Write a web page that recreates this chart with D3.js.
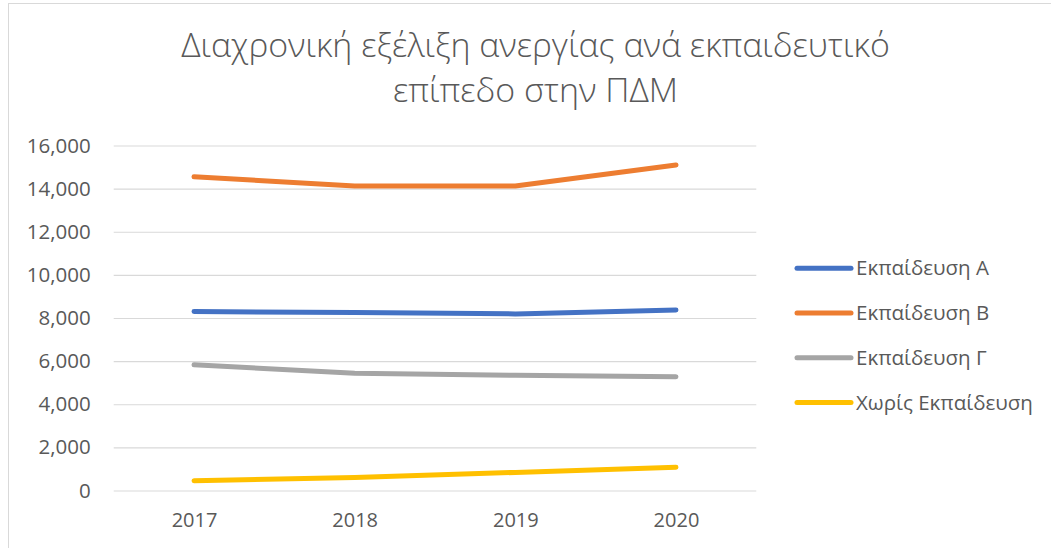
<!DOCTYPE html>
<html>
<head>
<meta charset="utf-8">
<script src="https://cdn.jsdelivr.net/npm/d3@7"></script>
<style>
  html, body { margin: 0; padding: 0; background: #fff; }
  svg { display: block; font-family: "Open Sans", "Noto Sans", sans-serif; }
  .tick text { fill: #595959; }
</style>
</head>
<body>
<div id="chart"></div>
<script>
// Data
var years = ['2017', '2018', '2019', '2020'];
var seriesNames = ['Εκπαίδευση Α', 'Εκπαίδευση Β', 'Εκπαίδευση Γ', 'Χωρίς Εκπαίδευση'];
var eduA = [8300, 8250, 8190, 8370];
var eduB = [14550, 14120, 14120, 15100];
var eduC = [5830, 5440, 5340, 5280];
var noEdu = [450, 600, 840, 1080];
var yTicks = [0, 2000, 4000, 6000, 8000, 10000, 12000, 14000, 16000];
var titleLines = ['Διαχρονική εξέλιξη ανεργίας ανά εκπαιδευτικό', 'επίπεδο στην ΠΔΜ'];

var colors = ['#4472C4', '#ED7D31', '#A5A5A5', '#FFC000'];
var seriesValues = [eduA, eduB, eduC, noEdu];

// Size
var svgWidth = 1051;
var svgHeight = 548;

var plot = { left: 113.7, right: 756.3, top: 145.5, bottom: 490.5 };

var svg = d3.select('#chart')
  .append('svg')
  .attr('width', svgWidth)
  .attr('height', svgHeight);

// chart border
svg.append('rect')
  .attr('x', 8.5)
  .attr('y', 3.5)
  .attr('width', svgWidth + 10)
  .attr('height', svgHeight + 10)
  .attr('fill', 'none')
  .attr('stroke', '#d9d9d9')
  .attr('stroke-width', 1);

// scales
var xScale = d3.scalePoint()
  .domain(years)
  .range([plot.left, plot.right])
  .padding(0.5);

var yScale = d3.scaleLinear()
  .domain([0, 16000])
  .range([plot.bottom, plot.top]);

// y axis with gridlines
var yAxis = svg.append('g')
  .attr('transform', `translate(${plot.left}, 0)`)
  .call(d3.axisLeft(yScale)
    .tickValues(yTicks)
    .tickFormat(d3.format(','))
    .tickSize(-(plot.right - plot.left))
    .tickPadding(23));

yAxis.attr('font-family', '"Open Sans", sans-serif');
yAxis.select('.domain').remove();
yAxis.selectAll('.tick line')
  .attr('stroke', '#d9d9d9')
  .attr('stroke-width', 1.2);
yAxis.selectAll('.tick text')
  .attr('font-size', '20.5px');

// x axis
var xAxis = svg.append('g')
  .attr('transform', `translate(0, ${plot.bottom})`)
  .call(d3.axisBottom(xScale).tickSize(0).tickPadding(22));

xAxis.attr('font-family', '"Open Sans", sans-serif');
xAxis.select('.domain').remove();
xAxis.selectAll('.tick text')
  .attr('font-size', '20px')
  .attr('dy', '0.71em');

// lines
var line = d3.line()
  .x((d, i) => xScale(years[i]))
  .y(d => yScale(d));

seriesValues.forEach(function (vals, i) {
  svg.append('path')
    .datum(vals)
    .attr('fill', 'none')
    .attr('stroke', colors[i])
    .attr('stroke-width', 5)
    .attr('stroke-linecap', 'round')
    .attr('stroke-linejoin', 'round')
    .attr('d', line);
});

// legend
var legend = svg.append('g')
  .attr('transform', 'translate(797, 268.3)');

seriesNames.forEach(function (name, i) {
  var row = legend.append('g')
    .attr('transform', `translate(0, ${i * 44.7})`);
  row.append('line')
    .attr('x1', 0)
    .attr('x2', 54)
    .attr('y1', 0)
    .attr('y2', 0)
    .attr('stroke', colors[i])
    .attr('stroke-width', 5)
    .attr('stroke-linecap', 'round');
  row.append('text')
    .attr('x', 59)
    .attr('y', 0)
    .attr('dy', '0.35em')
    .attr('font-size', '20.5px')
    .attr('fill', '#595959')
    .text(name);
});

// title
var title = svg.append('g');
var titleText = titleLines.map(function (t, i) {
  return title.append('text')
    .attr('x', 535.5)
    .attr('y', 57 + i * 45)
    .attr('text-anchor', 'middle')
    .attr('font-size', '28px')
    .attr('font-weight', 300)
    .attr('fill', '#595959')
    .text(t);
});

// fit the first title line to its width in the picture
var w = titleText[0].node().getComputedTextLength();
var fs = 28 * 709 / w;
titleText.forEach(t => t.attr('font-size', fs + 'px'));
</script>
</body>
</html>
